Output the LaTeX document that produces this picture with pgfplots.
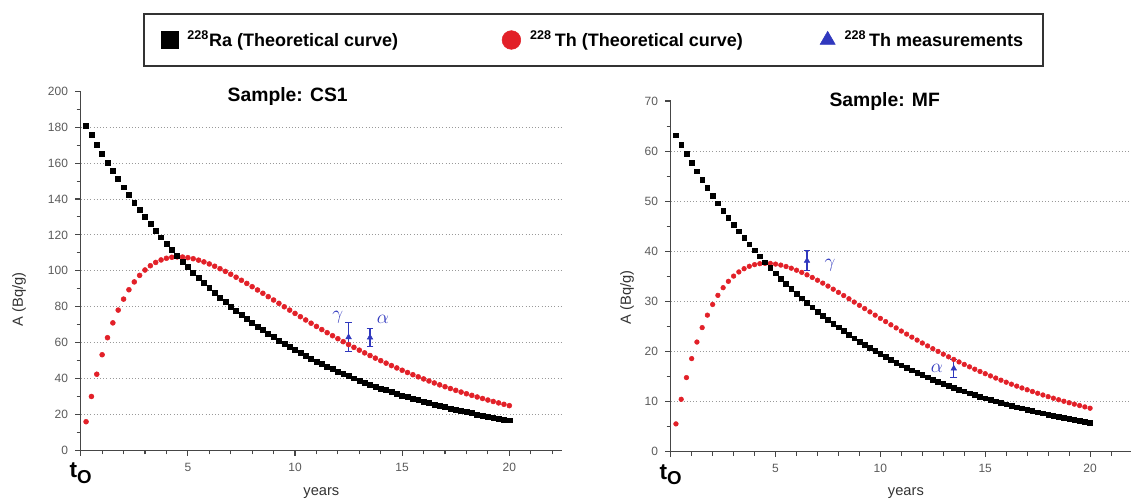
\documentclass[border=0pt]{standalone}
\usepackage{fontspec}
\setmainfont{Liberation Sans}
\usepackage{pgfplots}
\usepackage{pgfplotstable}
\pgfplotsset{compat=1.18}
\definecolor{thred}{RGB}{226,32,40}
\definecolor{mblue}{RGB}{48,56,190}
\definecolor{axgray}{RGB}{70,70,70}
\definecolor{lblgray}{RGB}{90,90,90}

\pgfplotstableread{
t ra th
0.25 180.96 15.91
0.50 175.59 29.98
0.75 170.38 42.37
1.00 165.32 53.23
1.25 160.41 62.72
1.50 155.65 70.98
1.75 151.03 78.11
2.00 146.54 84.22
2.25 142.19 89.44
2.50 137.97 93.81
2.75 133.87 97.45
3.00 129.90 100.44
3.25 126.04 102.82
3.50 122.30 104.66
3.75 118.67 106.04
4.00 115.15 106.98
4.25 111.73 107.54
4.50 108.41 107.74
4.75 105.20 107.67
5.00 102.07 107.32
5.25 99.04 106.73
5.50 96.10 105.93
5.75 93.25 104.96
6.00 90.48 103.82
6.25 87.79 102.54
6.50 85.19 101.16
6.75 82.66 99.66
7.00 80.21 98.08
7.25 77.83 96.43
7.50 75.52 94.72
7.75 73.28 92.96
8.00 71.10 91.15
8.25 68.99 89.32
8.50 66.94 87.47
8.75 64.95 85.60
9.00 63.02 83.72
9.25 61.15 81.85
9.50 59.33 79.96
9.75 57.57 78.10
10.00 55.87 76.26
10.25 54.21 74.42
10.50 52.60 72.59
10.75 51.04 70.79
11.00 49.52 69.01
11.25 48.05 67.26
11.50 46.62 65.53
11.75 45.24 63.83
12.00 43.90 62.16
12.25 42.60 60.52
12.50 41.33 58.91
12.75 40.11 57.35
13.00 38.91 55.79
13.25 37.75 54.27
13.50 36.63 52.79
13.75 35.55 51.35
14.00 34.49 49.92
14.25 33.47 48.55
14.50 32.47 47.19
14.75 31.51 45.88
15.00 30.58 44.60
15.25 29.67 43.34
15.50 28.79 42.11
15.75 27.94 40.93
16.00 27.10 39.75
16.25 26.30 38.62
16.50 25.51 37.51
16.75 24.76 36.45
17.00 24.03 35.41
17.25 23.32 34.40
17.50 22.62 33.40
17.75 21.95 32.44
18.00 21.30 31.50
18.25 20.67 30.60
18.50 20.05 29.70
18.75 19.46 28.85
19.00 18.88 28.00
19.25 18.32 27.19
19.50 17.78 26.40
19.75 17.25 25.62
20.00 16.73 24.87
}\csone

\pgfplotstableread{
t ra th
0.25 63.16 5.55
0.50 61.28 10.46
0.75 59.46 14.79
1.00 57.70 18.58
1.25 55.98 21.89
1.50 54.32 24.77
1.75 52.71 27.26
2.00 51.14 29.39
2.25 49.62 31.21
2.50 48.15 32.74
2.75 46.72 34.01
3.00 45.34 35.05
3.25 43.99 35.88
3.50 42.68 36.53
3.75 41.42 37.01
4.00 40.19 37.34
4.25 38.99 37.53
4.50 37.84 37.60
4.75 36.71 37.58
5.00 35.62 37.45
5.25 34.56 37.25
5.50 33.54 36.97
5.75 32.54 36.63
6.00 31.58 36.23
6.25 30.64 35.79
6.50 29.73 35.30
6.75 28.85 34.78
7.00 27.99 34.23
7.25 27.16 33.65
7.50 26.36 33.06
7.75 25.57 32.44
8.00 24.81 31.81
8.25 24.08 31.17
8.50 23.36 30.53
8.75 22.67 29.87
9.00 21.99 29.22
9.25 21.34 28.57
9.50 20.71 27.91
9.75 20.09 27.26
10.00 19.50 26.61
10.25 18.92 25.97
10.50 18.36 25.33
10.75 17.81 24.71
11.00 17.28 24.08
11.25 16.77 23.47
11.50 16.27 22.87
11.75 15.79 22.28
12.00 15.32 21.69
12.25 14.87 21.12
12.50 14.42 20.56
12.75 14.00 20.02
13.00 13.58 19.47
13.25 13.17 18.94
13.50 12.78 18.42
13.75 12.41 17.92
14.00 12.04 17.42
14.25 11.68 16.94
14.50 11.33 16.47
14.75 11.00 16.01
15.00 10.67 15.57
15.25 10.35 15.13
15.50 10.05 14.70
15.75 9.75 14.28
16.00 9.46 13.87
16.25 9.18 13.48
16.50 8.90 13.09
16.75 8.64 12.72
17.00 8.39 12.36
17.25 8.14 12.01
17.50 7.89 11.66
17.75 7.66 11.32
18.00 7.43 10.99
18.25 7.21 10.68
18.50 7.00 10.37
18.75 6.79 10.07
19.00 6.59 9.77
19.25 6.39 9.49
19.50 6.21 9.21
19.75 6.02 8.94
20.00 5.84 8.68
}\mf

\pgfplotsset{
  panel/.style={
    scale only axis,
    axis lines=left,
    axis line style={-, draw=axgray, line width=1pt},
    tick align=outside,
    tick style={draw=axgray, line width=0.8pt},
    major tick length=4pt,
    minor tick length=3pt,
    xmin=0,
    xtick={0,5,10,15,20},
    xticklabels={{\color{black}\fontsize{17}{17}\selectfont\bfseries t\raisebox{-0.45ex}{\fontsize{14}{14}\selectfont O}},5,10,15,20},
    minor xtick={0,1,...,22},
    ticklabel style={font=\fontsize{9}{10}\selectfont, color=lblgray},
    xticklabel style={yshift=-2pt},
    yticklabel style={xshift=-2pt},
    /pgf/number format/assume math mode=true,
    extra y tick labels={},
    extra y tick style={grid=major, major tick length=0pt,
      major grid style={dotted, black!40, line width=0.7pt}},
    xlabel={years},
    ylabel={A (Bq/g)},
    label style={font=\fontsize{11}{12}\selectfont, color=black!80},
    title style={font=\bfseries\fontsize{14.5}{16}\selectfont, anchor=base, yshift=-6pt},
    clip=false,
  },
}

\begin{document}
\begin{tikzpicture}
\useasboundingbox (0,0) rectangle (849pt,377.25pt);

% ---------------- left panel
\begin{axis}[panel,
  at={(60.53pt,39.53pt)}, anchor=south west,
  width=361pt, height=269.25pt,
  xmax=22.46, ymin=0, ymax=200,
  ytick={0,20,...,200},
  minor ytick={0,10,...,200},
  extra y ticks={20,40,...,180},
  xlabel style={at={(axis description cs:0.50,-0.118)}, anchor=center},
  ylabel style={at={(axis description cs:-0.128,0.42)}, anchor=center},
  title={Sample: CS1},
  title style={at={(axis description cs:0.43,0.972)}},
  legend columns=3,
  legend cell align=left,
  legend style={at={(axis description cs:1.0655,1.1429)}, anchor=center,
    draw=black!80, line width=1.5pt, inner xsep=13pt, inner ysep=10.5pt,
    font=\bfseries\fontsize{13.5}{16}\selectfont,
    /tikz/every odd column/.append style={column sep=5pt},
    /tikz/column 2/.style={column sep=76pt},
    /tikz/column 4/.style={column sep=56pt}},
]
\addlegendimage{only marks, mark=square*, mark size=6.3pt, black, mark options={line width=0.4pt}}
\addlegendentry{\textsuperscript{228}Ra (Theoretical curve)}
\addlegendimage{only marks, mark=*, mark size=7pt, thred, mark options={line width=0.4pt}}
\addlegendentry{\textsuperscript{228}\,Th (Theoretical curve)}
\addlegendimage{only marks, mark=triangle*, mark size=6.5pt, mblue, mark options={line width=0.4pt}}
\addlegendentry{\textsuperscript{228}\,Th measurements}

\addplot[only marks, mark=*, mark size=1.85pt, thred, forget plot] table[x=t, y=th] {\csone};
\addplot[only marks, mark=square*, mark size=1.85pt, black, forget plot] table[x=t, y=ra] {\csone};
\addplot[only marks, mark=triangle*, mark size=2.4pt, mblue, forget plot,
  error bars/.cd, y dir=both, y explicit,
  error bar style={line width=0.8pt, mblue},
  error mark options={rotate=90, mark size=2.6pt, line width=0.8pt, mblue}]
  coordinates {(12.5,63) +- (0,8) (13.5,62.8) +- (0,4.8)};
\node[mblue, font=\fontsize{14}{14}\selectfont] at (axis cs:12.0,74) {$\gamma$};
\node[mblue, font=\fontsize{14}{14}\selectfont] at (axis cs:14.1,73) {$\alpha$};
\end{axis}

% ---------------- right panel
\begin{axis}[panel,
  at={(503.03pt,38.48pt)}, anchor=south west,
  width=345.2pt, height=263pt,
  xmax=21.95, ymin=0, ymax=70,
  ytick={0,10,...,70},
  minor ytick={0,5,...,70},
  extra y ticks={10,20,...,60},
  xlabel style={at={(axis description cs:0.511,-0.117)}, anchor=center},
  ylabel style={at={(axis description cs:-0.095,0.44)}, anchor=center},
  title={Sample: MF},
  title style={at={(axis description cs:0.465,0.985)}},
]
\addplot[only marks, mark=*, mark size=1.75pt, thred] table[x=t, y=th] {\mf};
\addplot[only marks, mark=square*, mark size=1.75pt, black] table[x=t, y=ra] {\mf};
\addplot[only marks, mark=triangle*, mark size=2.4pt, mblue,
  error bars/.cd, y dir=both, y explicit,
  error bar style={line width=0.8pt, mblue},
  error mark options={rotate=90, mark size=2.6pt, line width=0.8pt, mblue}]
  coordinates {(6.5,38.1) +- (0,2) (13.5,16.6) +- (0,1.8)};
\node[mblue, font=\fontsize{14}{14}\selectfont] at (axis cs:7.6,37.3) {$\gamma$};
\node[mblue, font=\fontsize{14}{14}\selectfont] at (axis cs:12.7,16.6) {$\alpha$};
\end{axis}
\end{tikzpicture}
\end{document}
